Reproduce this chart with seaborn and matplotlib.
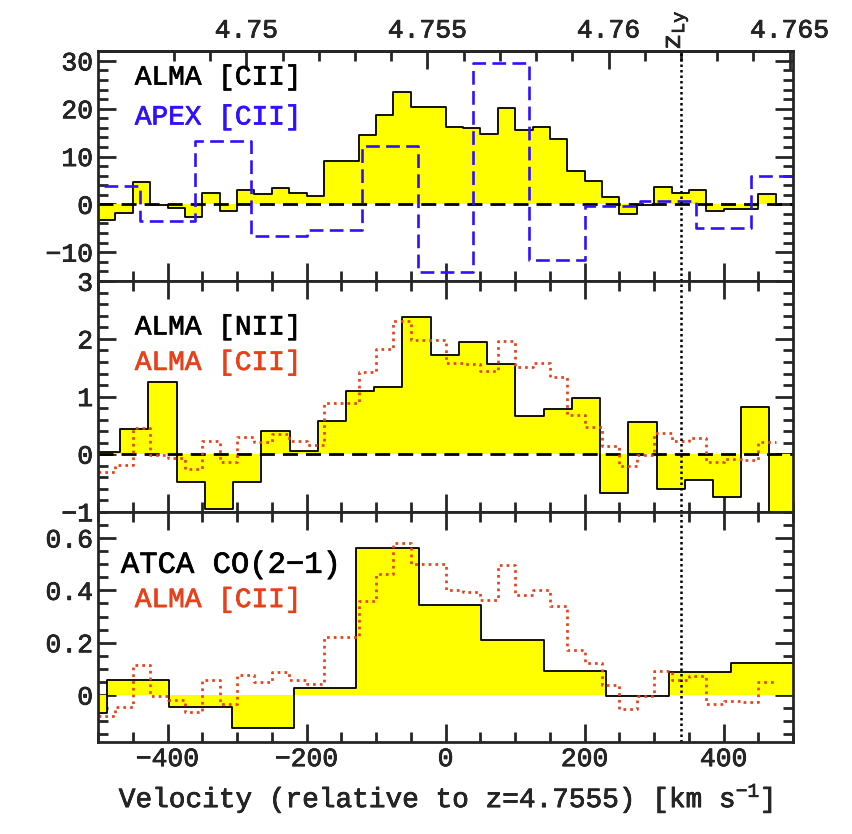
import numpy as np
import pandas as pd
import matplotlib
matplotlib.use("Agg")
import matplotlib.pyplot as plt
import matplotlib.transforms as mtransforms
import matplotlib.patheffects as pe
from matplotlib.ticker import MultipleLocator, FuncFormatter, FixedLocator
import seaborn as sns

C_KMS = 299792.458
Z_REF = 4.7555
Z_LYA = 4.762

# ALMA [CII] spectrum, 25 km/s channels (edges in km/s, flux in mJy)
cii_edges = [-500, -475, -450, -425, -400, -375, -350, -325, -300, -275,
             -250, -225, -200, -175, -150, -125, -100, -75, -50, -25,
             0, 25, 50, 75, 100, 125, 150, 175, 200, 225,
             250, 275, 300, 325, 350, 375, 400, 425, 450, 475]
cii_flux = [-3.2, -1.9, 4.6, -0.2, -0.7, -2.6, 2.4, -1.4, 3.1, 2.1,
            3.5, 2.3, 1.7, 9.0, 9.0, 14.6, 18.7, 23.5, 20.3, 20.3,
            16.2, 16.0, 14.7, 20.1, 15.5, 16.2, 13.7, 6.9, 4.9, 1.5,
            -2.1, -0.1, 3.7, 2.3, 2.9, -1.4, -0.9, -1.0, 2.1]

# APEX [CII] spectrum, 80 km/s channels
apex_edges = [-520, -440, -360, -280, -200, -120, -40, 40, 120, 200,
              280, 360, 440, 520]
apex_flux = [3.9, -3.5, 13.2, -6.6, -5.4, 12.2, -14.2, 29.6, -11.6, -0.3,
             0.6, -4.9, 6.0]

# ALMA [NII] spectrum
nii_edges = [-508.6, -468.0, -427.4, -386.8, -346.2, -305.6, -265.0, -224.4,
             -183.8, -143.2, -102.6, -62.0, -21.4, 19.2, 59.8, 100.4, 141.0,
             181.6, 222.2, 262.8, 303.4, 344.0, 384.6, 425.2, 465.8, 506.4]
nii_flux = [0.03, 0.44, 1.25, -0.49, -0.95, -0.49, 0.41, 0.05, 0.58, 1.10,
            1.17, 2.38, 1.72, 1.95, 1.56, 0.66, 0.79, 0.97, -0.67, 0.56,
            -0.61, -0.45, -0.74, 0.82, -1.2]

# ATCA CO(2-1) spectrum
co_edges = [-577.3, -487.5, -397.7, -307.9, -218.1, -128.3, -38.5, 51.3,
            141.1, 230.9, 320.7, 410.5, 500.3]
co_flux = [-0.07, 0.058, -0.045, -0.126, 0.026, 0.56, 0.343, 0.209, 0.093,
           -0.003, 0.087, 0.122]

# redshift ticks along the top
z_major = [4.75, 4.755, 4.76, 4.765]
z_minor = [4.748, 4.749, 4.751, 4.752, 4.753, 4.754, 4.756, 4.757, 4.758,
           4.759, 4.761, 4.762, 4.763, 4.764]

# [CII] profile rescaled for comparison with the fainter lines
CII_TO_NII = 0.098
CII_TO_CO = 0.0247

YELLOW = "#ffff00"
BLUE = "#3010ff"
RED = "#e8401a"

sns.set_style("ticks")
plt.rcParams["font.family"] = ["Liberation Mono", "DejaVu Sans Mono"]
plt.rcParams["mathtext.fontset"] = "custom"
plt.rcParams["mathtext.rm"] = "Liberation Mono"
plt.rcParams["mathtext.it"] = "Liberation Mono"
plt.rcParams["axes.linewidth"] = 2.0
plt.rcParams["axes.unicode_minus"] = True

TICK_FONT = 19
LABEL_FONT = 20


def heavy(color):
    return [pe.withStroke(linewidth=0.5, foreground=color)]


def v_to_z(v):
    return Z_REF + np.asarray(v) * (1 + Z_REF) / C_KMS


def z_to_v(z):
    return C_KMS * (np.asarray(z) - Z_REF) / (1 + Z_REF)


def spectrum(ax, edges, flux, fill=None, color="black", ls="-", lw=1.3,
             close_right=False):
    edges = [float(e) for e in edges]
    flux = np.asarray(flux, dtype=float)
    centers = [0.5 * (a + b) for a, b in zip(edges[:-1], edges[1:])]
    df = pd.DataFrame({"v": centers, "f": flux})
    if fill is not None:
        sns.histplot(df, x="v", weights="f", bins=edges, element="step",
                     fill=True, color=fill, alpha=1, linewidth=0, ax=ax)
    sns.histplot(df, x="v", weights="f", bins=edges, element="step",
                 fill=False, color=color, linestyle=ls, linewidth=lw, ax=ax)
    if close_right:
        ax.vlines(edges[-1], 0, flux[-1], color=color, lw=lw)


def tag(ax, x, y, s, color, size=LABEL_FONT):
    ax.text(x, y, s, transform=ax.transAxes, fontsize=size,
            va="center", ha="left", color=color, path_effects=heavy(color))


fig, axes = plt.subplots(3, 1, sharex=True, figsize=(8.52, 8.34), dpi=100,
                         gridspec_kw=dict(hspace=0))
fig.subplots_adjust(left=0.115, right=0.931, top=0.939, bottom=0.110)

cii = np.asarray(cii_flux)
DOTS = (0, (1.0, 1.5))

# top: ALMA vs APEX [CII]
ax = axes[0]
spectrum(ax, cii_edges, cii_flux, fill=YELLOW, close_right=True)
ax.axhline(0, color="black", lw=2.0, ls=(0, (5.4, 2.9)))
spectrum(ax, apex_edges, apex_flux, color=BLUE, ls=(0, (5.2, 2.4)), lw=1.9)
ax.set_ylim(-16.1, 32.1)
ax.yaxis.set_major_locator(MultipleLocator(10))
ax.yaxis.set_minor_locator(MultipleLocator(2))
tag(ax, 0.053, 0.884, "ALMA [CII]", "black")
tag(ax, 0.053, 0.711, "APEX [CII]", BLUE)

# middle: [NII] with scaled [CII]
ax = axes[1]
spectrum(ax, nii_edges, nii_flux, fill=YELLOW)
ax.axhline(0, color="black", lw=2.0, ls=(0, (5.4, 2.9)))
spectrum(ax, cii_edges, cii * CII_TO_NII, color=RED, ls=DOTS, lw=1.95)
ax.set_ylim(-1, 3)
ax.yaxis.set_major_locator(MultipleLocator(1))
ax.yaxis.set_minor_locator(MultipleLocator(0.2))
tag(ax, 0.053, 0.80, "ALMA [NII]", "black")
tag(ax, 0.053, 0.646, "ALMA [CII]", RED)

# bottom: CO(2-1) with scaled [CII]
ax = axes[2]
spectrum(ax, co_edges, co_flux, fill=YELLOW)
spectrum(ax, cii_edges, cii * CII_TO_CO, color=RED, ls=DOTS, lw=1.95)
ax.set_ylim(-0.18, 0.70)
ax.yaxis.set_major_locator(MultipleLocator(0.2))
ax.yaxis.set_minor_locator(MultipleLocator(0.05))
ax.yaxis.set_major_formatter(FuncFormatter(lambda y, _: f"{y:g}"))
tag(ax, 0.033, 0.77, "ATCA CO(2\u22121)", "black", size=22)
tag(ax, 0.053, 0.617, "ALMA [CII]", RED)

v_lya = float(z_to_v(Z_LYA))
for i, ax in enumerate(axes):
    ax.set_xlim(-500, 500)
    ax.set_ylabel("")
    ax.axvline(v_lya, color="black", lw=1.8, ls=(0, (1.0, 1.2)))
    ax.xaxis.set_major_locator(MultipleLocator(200))
    ax.xaxis.set_minor_locator(MultipleLocator(50))
    ax.tick_params(which="both", direction="in", top=(i > 0), right=True,
                   width=2.0, labelsize=TICK_FONT)
    ax.tick_params(which="major", length=13)
    ax.tick_params(which="minor", length=7)
    for lab in ax.get_xticklabels() + ax.get_yticklabels():
        lab.set_path_effects(heavy("black"))

axes[2].set_xlabel("Velocity (relative to z=4.7555) [km s$^{-1}$]",
                   fontsize=LABEL_FONT, path_effects=heavy("black"),
                   labelpad=8)

# redshift scale along the top
sec = axes[0].secondary_xaxis("top", functions=(v_to_z, z_to_v))
sec.xaxis.set_major_locator(FixedLocator(z_major))
sec.xaxis.set_minor_locator(FixedLocator(z_minor))
sec.xaxis.set_major_formatter(FuncFormatter(lambda z, _: f"{z:g}"))
sec.tick_params(which="both", direction="in", width=2.0, labelsize=TICK_FONT,
                pad=6)
sec.tick_params(which="major", length=13)
sec.tick_params(which="minor", length=7)
for lab in sec.get_xticklabels():
    lab.set_path_effects(heavy("black"))

axes[0].text(v_lya - 6, 1.005, r"$z_{\rm Ly}$", rotation=90, fontsize=19,
             ha="center", va="bottom", path_effects=heavy("black"),
             transform=mtransforms.blended_transform_factory(
                 axes[0].transData, axes[0].transAxes))

fig.savefig("out.png", dpi=100)
